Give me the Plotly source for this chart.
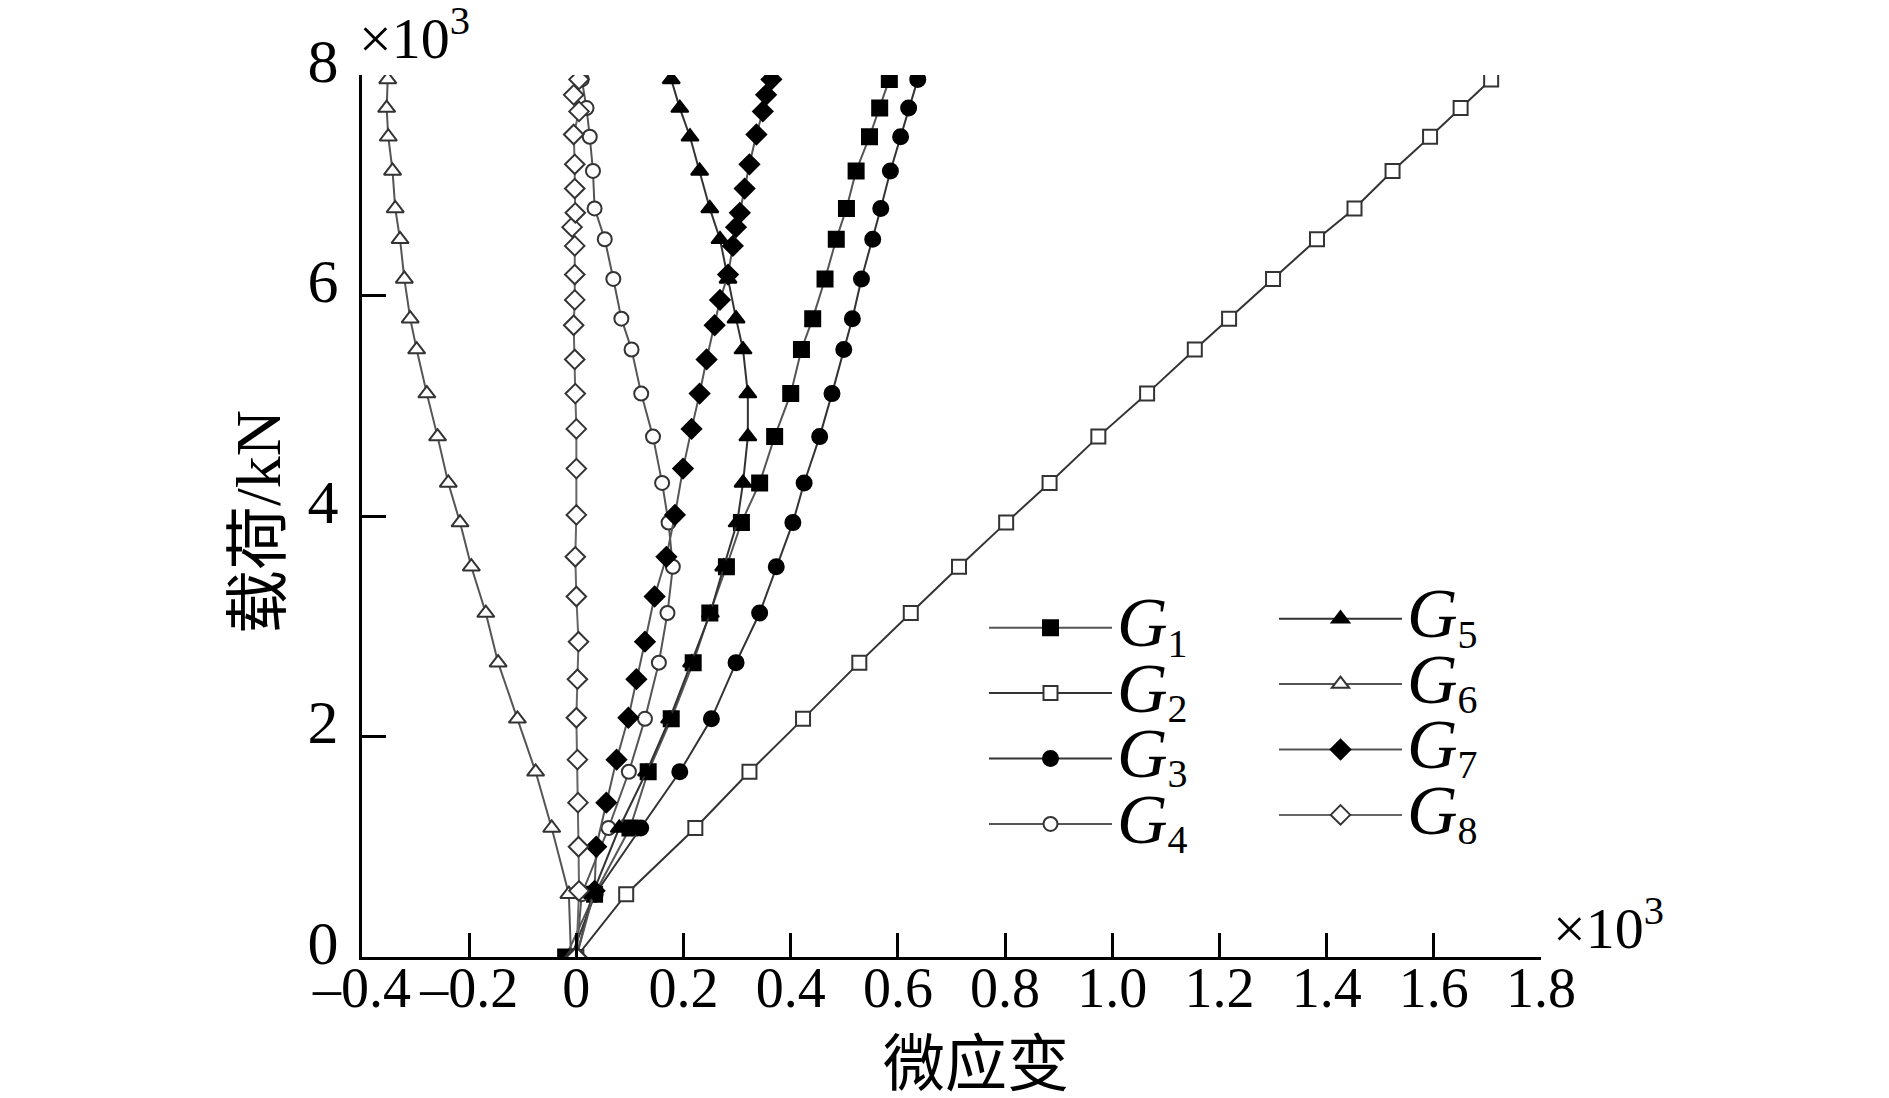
import plotly.graph_objects as go

# ---------------- data (strain in x10^3 micro-strain, load in x10^3 kN) -------------
load_a = [0, 0.57, 1.17, 1.68, 2.16, 2.67, 3.12, 3.54, 3.94, 4.30, 4.72,
          5.11, 5.51, 5.79, 6.15, 6.51, 6.79, 7.13, 7.44, 7.70, 7.96]
load_b = [0, 0.60, 1.00, 1.40, 1.79, 2.17, 2.52, 2.86, 3.27, 3.63, 4.01, 4.43, 4.79,
          5.11, 5.42, 5.73, 5.96, 6.19, 6.45, 6.62, 6.75, 6.97, 7.19, 7.46, 7.67, 7.82, 7.96]

strain_g1 = [-0.02, 0.034, 0.10, 0.134, 0.177, 0.218, 0.249, 0.280, 0.308, 0.342, 0.370,
             0.400, 0.420, 0.441, 0.464, 0.485, 0.504, 0.522, 0.547, 0.566, 0.584]
strain_g2 = [0, 0.093, 0.222, 0.323, 0.423, 0.528, 0.624, 0.714, 0.802, 0.883, 0.974,
             1.065, 1.154, 1.218, 1.300, 1.382, 1.452, 1.523, 1.593, 1.650, 1.707]
strain_g3 = [-0.01, 0.035, 0.12, 0.193, 0.252, 0.298, 0.342, 0.373, 0.404, 0.425, 0.454,
             0.477, 0.499, 0.515, 0.532, 0.553, 0.568, 0.586, 0.605, 0.620, 0.637]
strain_g4 = [0, 0.010, 0.060, 0.098, 0.128, 0.154, 0.170, 0.180, 0.172, 0.160, 0.143,
             0.121, 0.103, 0.084, 0.069, 0.053, 0.034, 0.031, 0.025, 0.019, 0.010]
strain_g5 = [0, 0.030, 0.080, 0.131, 0.174, 0.215, 0.250, 0.275, 0.300, 0.311, 0.320,
             0.320, 0.311, 0.298, 0.283, 0.268, 0.249, 0.230, 0.212, 0.193, 0.177]
strain_g6 = [-0.01, -0.014, -0.046, -0.076, -0.110, -0.146, -0.169, -0.196, -0.217, -0.239, -0.259,
             -0.279, -0.298, -0.310, -0.321, -0.329, -0.338, -0.343, -0.351, -0.354, -0.352]
strain_g7 = [0, 0.034, 0.037, 0.056, 0.075, 0.097, 0.112, 0.128, 0.146, 0.168, 0.184, 0.199, 0.215,
             0.230, 0.243, 0.258, 0.268, 0.283, 0.292, 0.298, 0.305, 0.314, 0.323, 0.336, 0.348, 0.354, 0.364]
strain_g8 = [0, 0.005, 0.004, 0.003, 0.002, 0.0, 0.002, 0.004, 0.0, -0.002, 0.0, 0.0, 0.0,
             -0.002, -0.003, -0.005, -0.003, -0.003, -0.003, -0.008, -0.002, -0.003, -0.003, -0.005, 0.005, -0.005, 0.005]

series_names = ["G1", "G2", "G3", "G4", "G5", "G6", "G7", "G8"]
x_tick_vals = [-0.4, -0.2, 0, 0.2, 0.4, 0.6, 0.8, 1.0, 1.2, 1.4, 1.6, 1.8]
x_tick_text = ["\u20130.4", "\u20130.2", "0", "0.2", "0.4", "0.6", "0.8", "1.0", "1.2", "1.4", "1.6", "1.8"]
y_tick_vals = [0, 2, 4, 6, 8]
y_tick_text = ["0", "2", "4", "6", "8"]

# ---------------- figure geometry ----------------
W, H = 1889, 1098
L, R, T, B = 354, 356, 67, 149
PW, PH = W - L - R, H - T - B


def px(xp):
    return (xp - L) / PW


def py(yp):
    return (H - B - yp) / PH


SERIF = "Liberation Serif, Times New Roman, serif"
CJK = "Liberation Serif, Noto Sans CJK SC, sans-serif"

styles = {
    "G1": dict(symbol="square", color="black", size=15, lc="#555555", legend="legend"),
    "G2": dict(symbol="square", color="white", size=14, lc="#333333", legend="legend"),
    "G3": dict(symbol="circle", color="black", size=15, lc="#333333", legend="legend"),
    "G4": dict(symbol="circle", color="white", size=14, lc="#555555", legend="legend"),
    "G5": dict(symbol="triangle-up", color="black", size=15, lc="#333333", legend="legend2"),
    "G6": dict(symbol="triangle-up", color="white", size=15, lc="#555555", legend="legend2"),
    "G7": dict(symbol="diamond", color="black", size=15, lc="#555555", legend="legend2"),
    "G8": dict(symbol="diamond", color="white", size=15, lc="#666666", legend="legend2"),
}
data = {
    "G1": (strain_g1, load_a), "G2": (strain_g2, load_a), "G3": (strain_g3, load_a),
    "G4": (strain_g4, load_a), "G5": (strain_g5, load_a), "G6": (strain_g6, load_a),
    "G7": (strain_g7, load_b), "G8": (strain_g8, load_b),
}

fig = go.Figure()
for name in series_names:
    st = styles[name]
    xs, ys = data[name]
    label = ("<span style='font-size:70px'><i>G</i></span>"
             "<sub><span style='font-size:40px'>%s</span></sub>" % name[1:])
    fig.add_trace(go.Scatter(
        x=xs, y=ys, mode="lines+markers", name=label, legend=st["legend"],
        line=dict(color=st["lc"], width=2),
        marker=dict(symbol=st["symbol"], size=st["size"], color=st["color"],
                    line=dict(color="black" if st["color"] == "black" else "#333333", width=2)),
    ))

axis_common = dict(
    showline=True, linecolor="black", linewidth=3, mirror=False,
    ticks="inside", ticklen=24, tickwidth=2.5, tickcolor="black",
    showgrid=False, zeroline=False, tickmode="array", tickangle=0,
)

fig.update_layout(
    width=W, height=H,
    margin=dict(l=L, r=R, t=T, b=B, autoexpand=False),
    paper_bgcolor="white", plot_bgcolor="white",
    xaxis=dict(range=[-0.4, 1.8], tickvals=x_tick_vals, ticktext=x_tick_text,
               tickfont=dict(family=SERIF, size=56, color="black"),
               ticklabelstandoff=-20, **axis_common),
    yaxis=dict(range=[0, 8], tickvals=y_tick_vals, ticktext=y_tick_text,
               tickfont=dict(family=SERIF, size=62, color="black"),
               ticklabelstandoff=8, ticklabelshift=-15, **axis_common),
    legend=dict(x=px(976), y=py(582), xanchor="left", yanchor="top",
                font=dict(family=SERIF, size=48, color="black"),
                bgcolor="rgba(0,0,0,0)", itemwidth=123, tracegroupgap=0),
    legend2=dict(x=px(1266), y=py(573), xanchor="left", yanchor="top",
                 font=dict(family=SERIF, size=48, color="black"),
                 bgcolor="rgba(0,0,0,0)", itemwidth=123, tracegroupgap=0),
    annotations=[
        dict(text="\u00d710<sup>3</sup>", x=px(350), y=py(64), xref="paper", yref="paper",
             xanchor="left", yanchor="bottom", showarrow=False, borderpad=0,
             font=dict(family=SERIF, size=58, color="black")),
        dict(text="\u00d710<sup>3</sup>", x=px(1543), y=py(955), xref="paper", yref="paper",
             xanchor="left", yanchor="bottom", showarrow=False,
             font=dict(family=SERIF, size=58, color="black")),
        dict(text="微应变", x=px(968), y=py(1057), xref="paper", yref="paper",
             xanchor="center", yanchor="middle", showarrow=False,
             font=dict(family=CJK, size=62, color="black")),
        dict(text="载荷/kN", x=px(250), y=py(514), xref="paper", yref="paper",
             xanchor="center", yanchor="middle", showarrow=False, textangle=-90,
             font=dict(family=CJK, size=64, color="black")),
    ],
)

fig.write_html("out.html")
